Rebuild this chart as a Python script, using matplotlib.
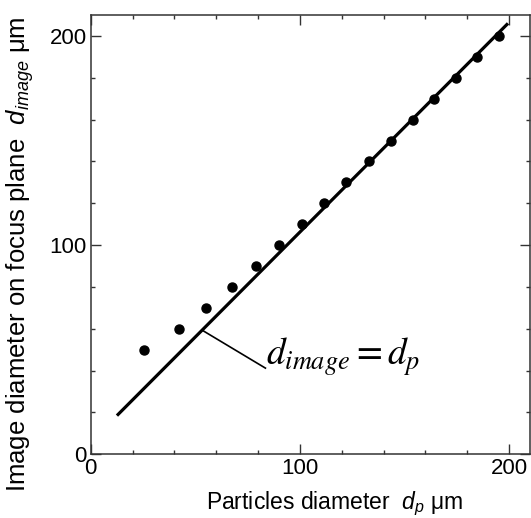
import numpy as np
import matplotlib
matplotlib.use("Agg")
import matplotlib.pyplot as plt
from matplotlib.ticker import MultipleLocator

plt.rcParams['font.family'] = ['Liberation Sans', 'DejaVu Sans']
plt.rcParams['mathtext.fontset'] = 'custom'
plt.rcParams['mathtext.rm'] = 'Liberation Sans'
plt.rcParams['mathtext.it'] = 'Liberation Sans:italic'

# measured image diameter vs. particle diameter (um)
dp_meas = [25.5, 42, 55, 67.5, 79, 90, 101, 111.5, 122, 133, 143.5, 154, 164, 174.5, 184.5, 195]
dimage_meas = [50, 60, 70, 80, 90, 100, 110, 120, 130, 140, 150, 160, 170, 180, 190, 200]

# reference line d_image = d_p
line_x = [12.5, 199.5]
line_y = [18.5, 206]

# leader from the line to its label
leader_x = [53.8, 83.5]
leader_y = [59, 41.2]

fig = plt.figure(figsize=(5.31, 5.18), dpi=100)
ax = fig.add_axes([0.171, 0.123, 0.827, 0.848])

ax.plot(line_x, line_y, color='black', lw=2.3, solid_capstyle='butt')
ax.plot(dp_meas, dimage_meas, 'o', color='black', ms=6.5)
ax.plot(leader_x, leader_y, color='black', lw=1.2)
ax.text(83.7, 46.5, r'$d_{image} = d_p$', fontsize=27, math_fontfamily='stix',
        ha='left', va='center')

ax.set_xlim(0, 210)
ax.set_ylim(0, 210)
ax.set_xticks([0, 100, 200])
ax.set_yticks([0, 100, 200])
ax.xaxis.set_minor_locator(MultipleLocator(20))
ax.yaxis.set_minor_locator(MultipleLocator(20))
ax.tick_params(which='both', direction='in', top=True, right=True,
               labelsize=16, width=1, color='#333333', pad=3)
ax.tick_params(which='major', length=7)
ax.tick_params(which='minor', length=3)
for s in ax.spines.values():
    s.set_linewidth(1.1)
    s.set_color('#333333')

ax.set_xlabel(r'Particles diameter  $d_p$ μm', fontsize=16.5)
ax.xaxis.set_label_coords(0.555, -0.08)
ax.set_ylabel(r'Image diameter on focus plane  $d_{image}$ μm', fontsize=18.5)
ax.yaxis.set_label_coords(-0.125, 0.455)

fig.savefig('out.png', dpi=100)
